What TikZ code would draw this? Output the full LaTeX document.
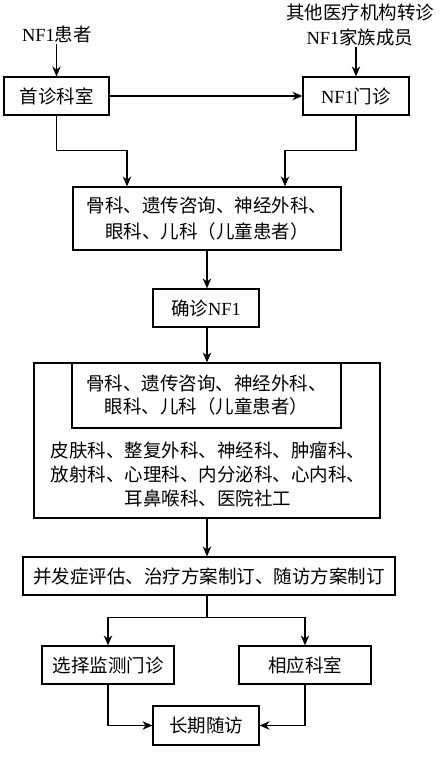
\documentclass[tikz,border=0pt]{standalone}
\usepackage{fontspec}
\newfontfamily\cjk{Noto Sans CJK SC}
\newfontfamily\lat{Liberation Serif}
\usetikzlibrary{arrows.meta}
\tikzset{
  box/.style={draw,line width=1.2pt,inner sep=0pt,align=center},
  txt/.style={inner sep=1pt,align=center},
  arr/.style={line width=1.2pt,-{Stealth[length=10pt,width=8.5pt]}},
  ln/.style={line width=1.2pt},
}
\begin{document}
\begin{tikzpicture}[x=1pt,y=-1pt,font=\cjk\fontsize{18.5}{25}\selectfont]
\useasboundingbox (0,0) rectangle (440,762);
% top texts
\node[txt] (p) at (57,34) {{\lat NF1}患者};
\node[txt] (ref) at (360,25) {其他医疗机构转诊\\{\lat NF1}家族成员};
% boxes
\node[box,minimum width=105,minimum height=38] (sz) at (56.5,96) {首诊科室};
\node[box,minimum width=106,minimum height=38] (mz) at (356,96) {{\lat NF1}门诊};
\node[box,minimum width=268,minimum height=63,font=\cjk\fontsize{18.5}{26}\selectfont] (b1) at (207,218.5) {骨科、遗传咨询、神经外科、\\眼科、儿科（儿童患者）};
\node[box,minimum width=106,minimum height=38] (qz) at (206,308) {确诊{\lat NF1}};
\node[box,minimum width=346,minimum height=155] (big) at (207,440.5) {};
\node[box,minimum width=269,minimum height=65,font=\cjk\fontsize{18.5}{23}\selectfont] (inner) at (206.5,395.5) {骨科、遗传咨询、神经外科、\\眼科、儿科（儿童患者）};
\node[txt,font=\cjk\fontsize{18.5}{24}\selectfont] (lt) at (208,474) {皮肤科、整复外科、神经科、肿瘤科、\\放射科、心理科、内分泌科、心内科、\\耳鼻喉科、医院社工};
\node[box,minimum width=372,minimum height=38] (bf) at (209,576) {并发症评估、治疗方案制订、随访方案制订};
\node[box,minimum width=132,minimum height=38] (L) at (108,665) {选择监测门诊};
\node[box,minimum width=132,minimum height=38] (R) at (305,665) {相应科室};
\node[box,minimum width=106,minimum height=39] (cq) at (206,725.5) {长期随访};
% connectors
\draw[arr] (p.south -| sz.north) -- (sz.north);
\draw[arr] (ref.south -| mz.north) -- (mz.north);
\draw[arr] (sz.east) -- (mz.west);
\draw[arr] (sz.south) -- ++(0,35) -| ([xshift=-80]b1.north);
\draw[arr] (mz.south) -- ++(0,35) -| ([xshift=78]b1.north);
\draw[arr] (b1.south) -- (b1.south |- qz.north);
\draw[arr] (qz.south -| big.north) -- (big.north);
\draw[arr] (big.south) -- (big.south |- bf.north);
\draw[ln] (bf.south -| big.south) -- ++(0,22) coordinate (j);
\draw[arr] (j) -| (L.north);
\draw[arr] (j) -| (R.north);
\draw[arr] (L.south) |- (cq.west);
\draw[arr] (R.south) |- (cq.east);
\end{tikzpicture}
\end{document}
